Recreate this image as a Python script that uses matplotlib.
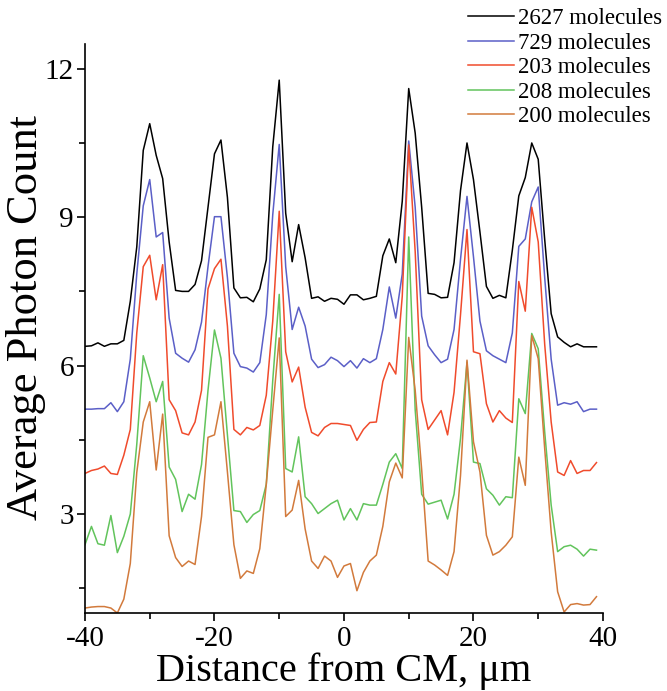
import numpy as np
import matplotlib
matplotlib.use("Agg")
import matplotlib.pyplot as plt
from matplotlib.ticker import MultipleLocator

# positions along the trap, 1 um steps
x = np.arange(-40, 40)

# average photon count per sample
y_2627 = [6.39, 6.40, 6.46, 6.39, 6.44, 6.44, 6.51, 7.30, 8.40, 10.35,
          10.89, 10.25, 9.78, 8.50, 7.52, 7.50, 7.50, 7.64, 8.12, 9.20,
          10.28, 10.56, 9.40, 7.57, 7.37, 7.38, 7.29, 7.55, 8.14, 10.42,
          11.77, 9.08, 8.10, 8.85, 8.18, 7.36, 7.39, 7.30, 7.36, 7.34,
          7.24, 7.43, 7.43, 7.33, 7.36, 7.40, 8.22, 8.56, 8.08, 9.32,
          11.60, 10.70, 9.20, 7.46, 7.44, 7.37, 7.38, 8.08, 9.54, 10.50,
          9.76, 8.70, 7.60, 7.36, 7.42, 7.37, 8.33, 9.43, 9.80, 10.50,
          10.17, 8.55, 7.05, 6.58, 6.47, 6.38, 6.44, 6.38, 6.38, 6.38]

y_729 = [5.12, 5.12, 5.13, 5.13, 5.25, 5.07, 5.27, 6.13, 7.85, 9.23,
         9.76, 8.60, 8.69, 6.96, 6.25, 6.15, 6.07, 6.32, 6.88, 8.00,
         9.01, 9.01, 7.78, 6.25, 5.98, 5.95, 5.87, 6.06, 7.03, 9.05,
         10.47, 8.00, 6.73, 7.18, 6.80, 6.13, 5.96, 6.02, 6.17, 6.10,
         5.98, 6.10, 5.95, 6.14, 6.06, 6.14, 6.73, 7.59, 6.96, 7.85,
         10.54, 9.20, 7.00, 6.40, 6.22, 6.06, 6.13, 6.73, 8.15, 9.42,
         8.20, 6.90, 6.30, 6.20, 6.13, 6.06, 6.66, 8.41, 8.56, 9.31,
         9.61, 7.78, 6.13, 5.20, 5.25, 5.22, 5.27, 5.07, 5.12, 5.12]

y_203 = [3.82, 3.88, 3.91, 3.97, 3.82, 3.80, 4.19, 4.71, 6.66, 8.00,
         8.23, 7.33, 8.04, 5.31, 5.09, 4.64, 4.60, 4.86, 5.50, 7.55,
         7.96, 8.15, 6.80, 4.71, 4.60, 4.75, 4.70, 4.79, 5.40, 6.90,
         9.12, 6.28, 5.67, 5.97, 5.16, 4.65, 4.58, 4.75, 4.83, 4.83,
         4.81, 4.79, 4.49, 4.71, 4.85, 4.86, 5.68, 6.06, 5.83, 7.40,
         10.46, 8.30, 5.31, 4.71, 4.90, 5.09, 4.60, 5.46, 7.03, 8.75,
         6.28, 6.24, 5.23, 4.86, 5.09, 4.94, 4.85, 7.70, 7.10, 9.20,
         8.50, 6.43, 4.86, 3.85, 3.78, 4.08, 3.82, 3.88, 3.88, 4.04]

y_208 = [2.38, 2.75, 2.40, 2.37, 2.97, 2.22, 2.55, 3.00, 4.41, 6.20,
         5.75, 5.27, 5.68, 3.95, 3.70, 3.05, 3.40, 3.30, 4.00, 5.50,
         6.72, 6.15, 4.60, 3.07, 3.05, 2.83, 2.99, 3.07, 3.60, 5.70,
         7.44, 3.92, 3.85, 4.56, 3.35, 3.21, 3.01, 3.11, 3.21, 3.28,
         2.88, 3.11, 2.88, 3.21, 3.18, 3.18, 3.60, 4.05, 4.22, 3.92,
         8.60, 5.10, 3.40, 3.20, 3.24, 3.28, 2.90, 3.40, 4.53, 6.07,
         4.05, 4.02, 3.51, 3.38, 3.18, 3.35, 3.33, 5.33, 5.03, 6.65,
         6.34, 4.66, 3.18, 2.24, 2.34, 2.37, 2.29, 2.15, 2.29, 2.27]

y_200 = [1.10, 1.12, 1.13, 1.13, 1.10, 1.00, 1.28, 2.00, 3.84, 4.86,
         5.27, 3.89, 5.02, 2.56, 2.12, 1.94, 2.05, 1.98, 2.95, 4.55,
         4.60, 5.27, 3.85, 2.38, 1.70, 1.85, 1.80, 2.30, 3.60, 5.10,
         6.56, 2.95, 3.08, 3.68, 2.70, 2.05, 1.90, 2.15, 2.05, 1.72,
         1.95, 2.00, 1.45, 1.82, 2.05, 2.17, 2.75, 3.65, 4.03, 3.73,
         6.57, 5.50, 3.90, 2.05, 1.97, 1.87, 1.76, 2.24, 3.78, 6.11,
         4.46, 3.85, 2.57, 2.17, 2.24, 2.37, 2.54, 4.15, 3.58, 6.61,
         6.14, 4.32, 2.64, 1.43, 1.02, 1.17, 1.19, 1.16, 1.17, 1.33]

labels = ["2627 molecules", "729 molecules", "203 molecules",
          "208 molecules", "200 molecules"]
colors = ["#000000", "#5b5fc7", "#f04b2c", "#62c45c", "#d27a3c"]
series = [y_2627, y_729, y_203, y_208, y_200]

plt.rcParams['font.family'] = ['Liberation Serif', 'DejaVu Serif']
plt.rcParams['axes.unicode_minus'] = False

fig = plt.figure(figsize=(6.67, 6.91), dpi=100)
ax = fig.add_axes([0.1274, 0.1129, 0.7766, 0.8234])

for ys, c, lab in zip(series, colors, labels):
    ax.plot(x, ys, color=c, lw=1.1, label=lab)

ax.set_xlim(-40, 40)
ax.set_ylim(1.0, 12.5)
ax.xaxis.set_major_locator(MultipleLocator(20))
ax.xaxis.set_minor_locator(MultipleLocator(10))
ax.yaxis.set_major_locator(MultipleLocator(3))
ax.yaxis.set_minor_locator(MultipleLocator(1.5))
ax.set_yticks([3, 6, 9, 12])
ax.tick_params(which='major', direction='out', length=6, width=1.2, labelsize=21)
ax.tick_params(which='minor', direction='out', length=4, width=1.2)
ax.tick_params(axis='y', which='major', pad=2)
ax.spines['top'].set_visible(False)
ax.spines['right'].set_visible(False)
ax.spines['left'].set_linewidth(1.2)
ax.spines['bottom'].set_linewidth(1.2)

ax.set_xlabel("Distance from CM, \u03bcm", fontsize=29, labelpad=0)
ax.set_ylabel("Average Photon Count", fontsize=32)
ax.yaxis.set_label_coords(-0.075, 0.52)

ax.legend(loc='upper right', bbox_to_anchor=(0.993, 0.988),
          bbox_transform=fig.transFigure, frameon=False, fontsize=16.5,
          handlelength=2.0, handletextpad=0.17, labelspacing=0.15,
          borderpad=0, borderaxespad=0)

fig.savefig("out.png", dpi=100)
